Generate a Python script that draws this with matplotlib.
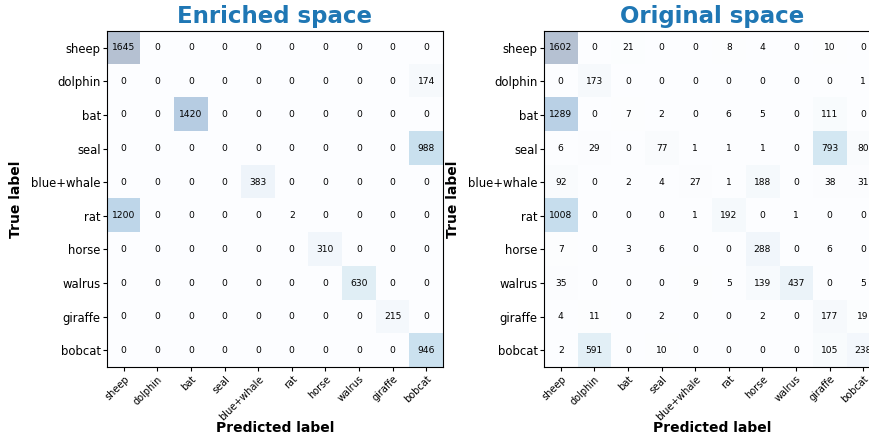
import numpy as np
import matplotlib
matplotlib.use("Agg")
import matplotlib.pyplot as plt

labels = ["sheep", "dolphin", "bat", "seal", "blue+whale",
          "rat", "horse", "walrus", "giraffe", "bobcat"]

enriched = np.array([
    [1645, 0, 0, 0, 0, 0, 0, 0, 0, 0],
    [0, 0, 0, 0, 0, 0, 0, 0, 0, 174],
    [0, 0, 1420, 0, 0, 0, 0, 0, 0, 0],
    [0, 0, 0, 0, 0, 0, 0, 0, 0, 988],
    [0, 0, 0, 0, 383, 0, 0, 0, 0, 0],
    [1200, 0, 0, 0, 0, 2, 0, 0, 0, 0],
    [0, 0, 0, 0, 0, 0, 310, 0, 0, 0],
    [0, 0, 0, 0, 0, 0, 0, 630, 0, 0],
    [0, 0, 0, 0, 0, 0, 0, 0, 215, 0],
    [0, 0, 0, 0, 0, 0, 0, 0, 0, 946],
])

original = np.array([
    [1602, 0, 21, 0, 0, 8, 4, 0, 10, 0],
    [0, 173, 0, 0, 0, 0, 0, 0, 0, 1],
    [1289, 0, 7, 2, 0, 6, 5, 0, 111, 0],
    [6, 29, 0, 77, 1, 1, 1, 0, 793, 80],
    [92, 0, 2, 4, 27, 1, 188, 0, 38, 31],
    [1008, 0, 0, 0, 1, 192, 0, 1, 0, 0],
    [7, 0, 3, 6, 0, 0, 288, 0, 6, 0],
    [35, 0, 0, 0, 9, 5, 139, 437, 0, 5],
    [4, 11, 0, 2, 0, 0, 2, 0, 177, 19],
    [2, 591, 0, 10, 0, 0, 0, 0, 105, 238],
])

titles = ["Enriched space", "Original space"]


def draw_cm(ax, cm, title):
    ax.imshow(cm, cmap="Blues", alpha=0.3, aspect="auto")
    n = len(labels)
    for i in range(n):
        for j in range(n):
            ax.text(j, i, str(cm[i, j]), ha="center", va="center",
                    fontsize=6.6, color="black")
    ax.set_xticks(range(n))
    ax.set_yticks(range(n))
    ax.set_xticklabels(labels, rotation=45, ha="right",
                       rotation_mode="anchor", fontsize=7)
    ax.set_yticklabels(labels, fontsize=8.4)
    ax.tick_params(length=3, width=0.8)
    ax.tick_params(axis="y", pad=1.5)
    ax.tick_params(axis="x", pad=2)
    ax.set_xlabel("Predicted label", fontsize=10, fontweight="bold")
    ax.set_ylabel("True label", fontsize=10, fontweight="bold")
    # label positions picked to match the reference layout
    ax.xaxis.set_label_coords(0.5, -0.16)
    ax.yaxis.set_label_coords(-0.25, 0.5)
    ax.set_title(title, fontsize=16.5, fontweight="bold", color="tab:blue")


fig = plt.figure(figsize=(8.7, 4.4), dpi=100)
W, H = 870, 440
ax1 = fig.add_axes([107 / W, (H - 367) / H, 336 / W, 336 / H])
ax2 = fig.add_axes([544 / W, (H - 367) / H, 336 / W, 336 / H])

draw_cm(ax1, enriched, titles[0])
draw_cm(ax2, original, titles[1])

fig.savefig("out.png", dpi=100)
